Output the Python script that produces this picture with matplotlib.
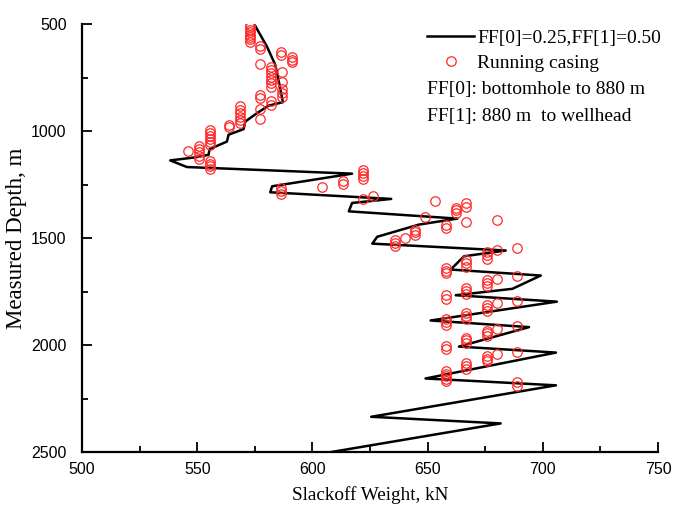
import matplotlib
matplotlib.use('Agg')
import matplotlib.pyplot as plt
from matplotlib.ticker import MultipleLocator

# model curve FF[0]=0.25, FF[1]=0.50
model_weight = [575, 580.3, 583.9, 585, 587.2, 581, 576, 570.9, 570.1, 563.6, 562.9,
                555.4, 554.9, 549, 538.3, 545.5, 617.2, 582.5, 581.7, 634.2, 617.2,
                615.8, 662.9, 646.2, 628.1, 626, 683.9, 665.8, 660, 699.1, 686.8,
                662.2, 706.1, 651.3, 694, 663.6, 705.7, 649.1, 705.7, 625.5, 681.7, 608]
model_depth = [505, 606, 691, 746, 865, 881, 916, 955, 991, 1017, 1049,
               1084, 1111, 1123, 1137, 1168, 1199, 1258, 1286, 1317, 1336,
               1375, 1409, 1437, 1494, 1526, 1558, 1585, 1647, 1675, 1737,
               1767, 1797, 1885, 1916, 2007, 2035, 2156, 2188, 2335, 2366, 2500]

# field data, running casing
run_weight = [573, 573, 573, 573, 573, 573, 573, 573,
              577.4, 577.4, 586.3, 586.3, 591.1, 591.1, 591.1, 577.4,
              582.2, 582.2, 582.2, 582.2, 582.2, 582.2, 582.2,
              586.8, 586.8, 586.8, 586.8, 586.8, 577.4, 577.4, 582.2, 582.2,
              577.4, 577.4, 568.7, 568.7, 568.7, 568.7, 568.7, 568.7,
              564, 564, 555.4, 555.4, 555.4, 555.4, 555.4, 555.4,
              550.6, 550.6, 550.6, 550.6, 550.6, 546.2,
              555.4, 555.4, 555.4, 555.4,
              622, 622, 622, 622, 613.2, 613.2, 604.2, 586.5, 586.5, 586.5,
              622, 626.4, 653.2, 662.2, 662.2, 662.2, 666.5, 666.5, 666.5, 680,
              648.8, 657.8, 657.8, 644.5, 644.5, 644.5, 640, 635.7, 635.7, 635.7,
              689, 680, 675.7, 675.7, 675.7, 666.5, 666.5, 666.5, 657.8, 657.8, 657.8,
              689, 680, 675.7, 675.7, 675.7, 666.5, 666.5, 666.5, 657.8, 657.8,
              689, 680, 675.7, 675.7, 675.7, 666.5, 666.5, 666.5, 657.8, 657.8, 657.8,
              689, 680, 675.7, 675.7, 675.7, 666.5, 666.5, 666.5, 657.8, 657.8,
              689, 680, 675.7, 675.7, 675.7, 666.5, 666.5, 666.5,
              657.8, 657.8, 657.8, 657.8, 657.8, 689, 689]
run_depth = [505, 516, 527, 538, 549, 560, 571, 584,
             601, 618, 632, 645, 652, 668, 679, 688,
             699, 715, 730, 746, 761, 777, 792,
             722, 769, 803, 823, 839, 831, 846, 859, 878,
             898, 944, 885, 901, 917, 932, 948, 960,
             971, 982, 994, 1008, 1022, 1036, 1050, 1064,
             1070, 1085, 1100, 1116, 1131, 1095,
             1142, 1154, 1165, 1177,
             1181, 1195, 1209, 1222, 1235, 1246, 1261, 1266, 1280, 1293,
             1317, 1305, 1328, 1359, 1371, 1383, 1336, 1355, 1426, 1414,
             1401, 1437, 1453, 1460, 1472, 1484, 1499, 1507, 1521, 1535,
             1546, 1557, 1566, 1581, 1597, 1603, 1618, 1634, 1639, 1652, 1665,
             1678, 1689, 1698, 1711, 1725, 1732, 1745, 1759, 1768, 1783,
             1794, 1805, 1815, 1829, 1843, 1849, 1863, 1877, 1880, 1892, 1905,
             1911, 1923, 1934, 1945, 1957, 1965, 1977, 1989, 2004, 2020,
             2031, 2040, 2051, 2063, 2076, 2085, 2097, 2110,
             2121, 2133, 2145, 2157, 2168, 2172, 2191]

serif = ['Liberation Serif', 'DejaVu Serif']
sans = ['Liberation Sans', 'DejaVu Sans']

fig = plt.figure(figsize=(6.74, 5.12), dpi=100)
ax = fig.add_axes([0.1217, 0.117, 0.8546, 0.836])

ax.plot(model_weight, model_depth, color='black', lw=1.8,
        label='FF[0]=0.25,FF[1]=0.50', zorder=2)
ax.plot(run_weight, run_depth, ls='none', marker='o', ms=6.8, mfc='none',
        mec='#ff2a2a', mew=0.9, label='Running casing', zorder=3)

ax.set_xlim(500, 750)
ax.set_ylim(2500, 500)
ax.xaxis.set_major_locator(MultipleLocator(50))
ax.xaxis.set_minor_locator(MultipleLocator(25))
ax.yaxis.set_major_locator(MultipleLocator(500))
ax.yaxis.set_minor_locator(MultipleLocator(250))
ax.tick_params(which='both', direction='in', width=1.3, labelsize=11.5)
ax.tick_params(which='major', length=7)
ax.tick_params(which='minor', length=4.5)
ax.tick_params(axis='y', which='major', pad=11)
ax.tick_params(axis='x', which='major', pad=7)
for lab in ax.get_xticklabels() + ax.get_yticklabels():
    lab.set_family(sans)

for s in ['top', 'right']:
    ax.spines[s].set_visible(False)
for s in ['left', 'bottom']:
    ax.spines[s].set_linewidth(1.6)

ax.set_xlabel('Slackoff Weight, kN', family=serif, fontsize=13.8, labelpad=7)
ax.set_ylabel('Measured Depth, m', family=serif, fontsize=16.5, labelpad=3)

leg = ax.legend(loc='upper right', bbox_to_anchor=(1.005, 0.988), frameon=False,
                prop={'family': serif, 'size': 14}, handlelength=2.4,
                handletextpad=0.15, labelspacing=0.4, borderaxespad=0.0,
                borderpad=0.0)

ax.text(0.599, 0.846, 'FF[0]: bottomhole to 880 m', transform=ax.transAxes,
        family=serif, fontsize=14, va='center')
ax.text(0.599, 0.785, 'FF[1]: 880 m  to wellhead', transform=ax.transAxes,
        family=serif, fontsize=14, va='center')

fig.savefig('out.png', dpi=100)
